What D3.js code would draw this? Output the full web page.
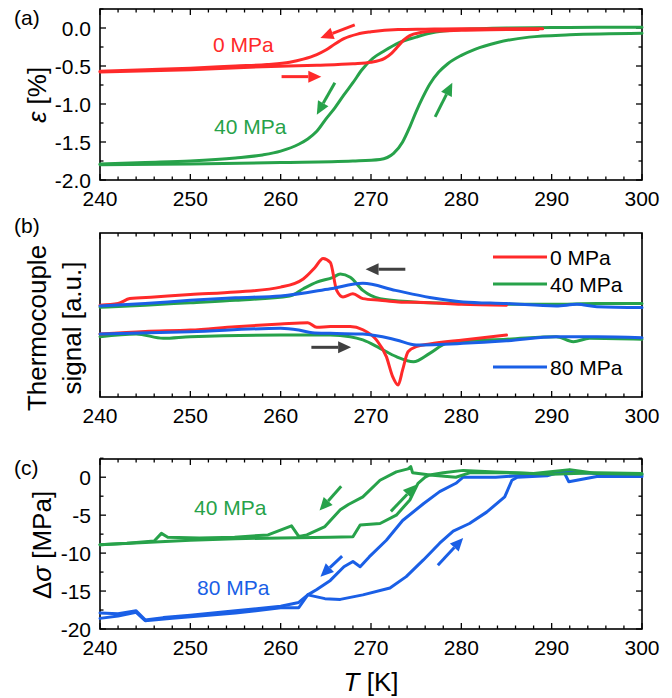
<!DOCTYPE html>
<html lang="en">
<head>
<meta charset="UTF-8">
<title>Strain, thermocouple signal and stress vs T</title>
<style>
  body { margin: 0; background: #fff; }
  text { font-family: "Liberation Sans", Arial, sans-serif; fill: #000; }
</style>
</head>
<body>
<script src="https://cdn.jsdelivr.net/npm/d3@7/dist/d3.min.js"></script>
<script>
// ---------- data ----------
var xTicks = [240, 250, 260, 270, 280, 290, 300];
var aTicks = [0.0, -0.5, -1.0, -1.5, -2.0];
var cTicks = [0, -5, -10, -15, -20];

// (a) strain, %
var aRedCoolT = [240, 245, 250, 255, 258.5, 261, 262.5, 264, 265, 266, 267, 268.5, 270, 273, 276, 280, 285, 289];
var aRedCoolE = [-0.57, -0.55, -0.53, -0.5, -0.48, -0.45, -0.41, -0.35, -0.29, -0.21, -0.14, -0.08, -0.05, -0.02, -0.015, -0.01, -0.01, -0.01];
var aRedHeatT = [240, 250, 258, 264, 268, 270, 271.5, 272.3, 273, 273.6, 274.3, 275.5, 277, 280, 285, 288.5];
var aRedHeatE = [-0.58, -0.55, -0.51, -0.49, -0.47, -0.45, -0.4, -0.33, -0.24, -0.16, -0.1, -0.06, -0.04, -0.03, -0.02, -0.02];
var aGrnCoolT = [300, 295, 290, 285, 280, 278, 276.5, 275, 273, 271.5, 270.2, 269, 268, 267, 266, 265, 264, 263, 262, 260, 258, 255, 250, 245, 240];
var aGrnCoolE = [0.01, 0.01, 0.005, 0.0, -0.02, -0.04, -0.07, -0.12, -0.2, -0.3, -0.4, -0.55, -0.72, -0.88, -1.05, -1.2, -1.36, -1.46, -1.53, -1.62, -1.67, -1.71, -1.75, -1.77, -1.79];
var aGrnHeatT = [240, 250, 260, 268, 271, 272.5, 273.5, 274.3, 275, 275.7, 276.5, 277.5, 278.5, 280, 281.5, 284, 287.5, 292, 300];
var aGrnHeatE = [-1.8, -1.79, -1.77, -1.75, -1.73, -1.65, -1.5, -1.3, -1.1, -0.92, -0.74, -0.58, -0.47, -0.36, -0.28, -0.19, -0.12, -0.09, -0.07];

// (b) thermocouple signal, arbitrary units
var bRedCoolT = [240, 242, 243.3, 246, 250, 255, 260, 262.5, 263.8, 264.7, 265.5, 266.2, 266.9, 268, 269.1, 271, 273, 276.5, 280, 285];
var bRedCoolV = [56, 57, 60, 61, 62.5, 64, 67, 72, 79, 84.5, 82, 65, 61, 63, 60, 59, 58, 57.5, 56.5, 56];
var bGrnCoolT = [240, 245, 250, 255, 261, 262.5, 264, 265.8, 266.6, 267.7, 269.1, 271, 274.7, 280, 284, 290, 295, 300];
var bGrnCoolV = [54.7, 56, 57.5, 59, 61.6, 66, 70, 73, 75, 73, 65, 60, 58, 57, 56.5, 56.5, 57, 57];
var bBluCoolT = [240, 245, 250, 255, 260, 265.5, 269.1, 272.7, 276.5, 280.2, 285, 290.5, 292.8, 295, 300];
var bBluCoolV = [55.5, 57, 59, 60.5, 61.6, 66, 69.3, 65, 60.7, 58, 57, 55.5, 56.5, 55, 54.5];
var bRedHeatT = [240, 245, 250, 255, 260, 263, 264, 265.5, 267.7, 269.1, 270.6, 271.7, 272.4, 273, 273.5, 274.1, 275, 276.5, 280.2, 285];
var bRedHeatV = [38.4, 40, 40.8, 42.9, 44.5, 45.3, 42.5, 43, 43, 41, 34.8, 24.6, 12.4, 7.3, 16.5, 27.6, 30.7, 32.3, 34.8, 37.8];
var bGrnHeatT = [240, 244, 247, 250, 260, 265.5, 267.7, 269.1, 271, 272.8, 274.7, 276.5, 278.3, 280.2, 285, 290.5, 292.4, 294.2, 300];
var bGrnHeatV = [36.8, 38.4, 35.8, 36.8, 37.8, 37.8, 36.8, 34.8, 29.7, 24.6, 21.5, 26.6, 32.7, 34.3, 35.2, 36.8, 33.7, 35.8, 35.2];
var bBluHeatT = [240, 250, 260, 262, 263.5, 265.5, 269.1, 272.8, 275, 280.2, 285, 290.5, 295, 300];
var bBluHeatV = [38.4, 39.8, 41.9, 40.8, 39.2, 38.8, 38.4, 34.8, 31.7, 32.7, 34.3, 36.8, 36.8, 36.2];

// (c) stress change, MPa
var cGrnCoolT = [300, 295, 290, 285, 281, 279.4, 276.5, 275.9, 274.6, 274.4, 274.1, 272.8, 271, 269.1, 267.5, 266.6, 264.9, 262.9, 262, 261.2, 258.6, 254.9, 251, 247.5, 246.8, 246, 243, 240];
var cGrnCoolS = [0.5, 0.6, 0.4, 0.6, 0.6, 0.0, 0.3, 0.4, 0.6, 1.4, 1.1, 0.7, -0.4, -2.6, -3.6, -4.3, -6.5, -7.6, -7.8, -6.4, -7.6, -7.9, -8.0, -7.9, -7.4, -8.4, -8.7, -8.9];
var cGrnHeatT = [240, 245, 250, 255, 260, 265.5, 268, 268.8, 271, 272.8, 274.3, 275.2, 276, 276.5, 278, 280.2, 283.8, 288, 292, 295, 300];
var cGrnHeatS = [-8.9, -8.6, -8.3, -8.1, -8.0, -7.9, -7.85, -6.3, -6.1, -5.0, -3.0, -0.8, 0.0, 0.3, 0.6, 0.9, 0.7, 0.5, 1.0, 0.5, 0.4];
var cBluCoolT = [300, 295, 291.2, 287.5, 283.8, 280.2, 279.4, 277.6, 275.8, 273.5, 271.7, 269.8, 268.8, 268, 267, 265.5, 264, 263, 262, 260, 255, 250, 247, 245, 244, 242, 240];
var cBluCoolS = [0.3, 0.5, 0.7, 0.3, 0.0, 0.0, -0.8, -1.9, -3.5, -5.7, -8.3, -10.5, -11.8, -11.1, -11.8, -13.6, -14.8, -15.5, -16.5, -17.0, -17.6, -18.2, -18.5, -18.8, -17.6, -18.0, -17.9];
var cBluHeatT = [240, 242, 244, 245, 248, 250, 255, 260, 262, 263, 264.9, 266.6, 269.1, 272.1, 273.9, 275.8, 277.6, 279.1, 280.9, 282.8, 284.8, 285.6, 286.2, 289.5, 291.3, 291.9, 295, 300];
var cBluHeatS = [-18.6, -18.3, -17.8, -18.9, -18.6, -18.4, -17.9, -17.2, -17.2, -15.5, -16.0, -16.1, -15.5, -14.6, -13.1, -10.9, -8.7, -7.1, -6.1, -4.6, -2.6, -0.4, 0.0, 0.2, 0.8, -0.6, 0.1, 0.1];

var red = "#ff2a2a", green = "#27a24a", blue = "#1a5fe6", grey = "#404040";

// ---------- layout ----------
var width = 672, height = 698;
var left = 100, right = 642;
var tickFont = 21, titleFont = 26;

var svg = d3.select("body").append("svg")
  .attr("width", width)
  .attr("height", height);

var x = d3.scaleLinear().domain([240, 300]).range([left, right]);
var yA = d3.scaleLinear().domain([-2.0, 0.25]).range([180, 9]);
var yB = d3.scaleLinear().domain([0, 100]).range([397, 233]);
var yC = d3.scaleLinear().domain([-20, 2.4]).range([629, 459]);

function zip(ts, vs) {
  return ts.map(function (t, i) { return [t, vs[i]]; });
}

// one panel: frame, ticks on all sides, tick labels
function panel(y, yMajor, yMinor, yFmt) {
  var g = svg.append("g");
  var top = y.range()[1], bot = y.range()[0];

  var xMinor = d3.range(240, 301, 2);
  g.selectAll(".xt").data(xMinor).enter().append("line")
    .attr("x1", d => x(d)).attr("x2", d => x(d))
    .attr("y1", bot).attr("y2", d => bot - (d % 10 === 0 ? 6 : 3.5))
    .attr("stroke", "#000").attr("stroke-width", 1.3);
  g.selectAll(".xtt").data(xMinor).enter().append("line")
    .attr("x1", d => x(d)).attr("x2", d => x(d))
    .attr("y1", top).attr("y2", d => top + (d % 10 === 0 ? 6 : 3.5))
    .attr("stroke", "#000").attr("stroke-width", 1.3);
  g.selectAll(".xl").data(xTicks).enter().append("text")
    .attr("x", d => x(d)).attr("y", bot + 26)
    .attr("text-anchor", "middle").attr("font-size", tickFont)
    .text(d => d);

  if (yMajor) {
    var ticks = yMajor.map(v => ({ v: v, len: 6 })).concat(yMinor.map(v => ({ v: v, len: 3.5 })));
    [left, right].forEach(function (xx, k) {
      var s = k === 0 ? 1 : -1;
      g.selectAll(null).data(ticks).enter().append("line")
        .attr("x1", xx).attr("x2", d => xx + s * d.len)
        .attr("y1", d => y(d.v)).attr("y2", d => y(d.v))
        .attr("stroke", "#000").attr("stroke-width", 1.3);
    });
    g.selectAll(null).data(yMajor).enter().append("text")
      .attr("x", left - 9).attr("y", d => y(d) + 7.5)
      .attr("text-anchor", "end").attr("font-size", tickFont)
      .text(yFmt);
  }

  g.append("rect")
    .attr("x", left).attr("y", top)
    .attr("width", right - left).attr("height", bot - top)
    .attr("fill", "none").attr("stroke", "#000").attr("stroke-width", 1.6);
  return g;
}

function curve(y, ts, vs, color, smooth) {
  var line = d3.line()
    .x(d => x(d[0])).y(d => y(d[1]))
    .curve(smooth ? d3.curveMonotoneX : d3.curveLinear);
  var pts = zip(ts, vs);
  if (ts[0] > ts[ts.length - 1]) pts = pts.slice().reverse();
  svg.append("path").datum(pts)
    .attr("d", line)
    .attr("fill", "none")
    .attr("stroke", color)
    .attr("stroke-width", 3)
    .attr("stroke-linejoin", "round")
    .attr("stroke-linecap", "round");
}

function arrow(y, t0, v0, t1, v1, color) {
  var x0 = x(t0), y0 = y(v0), x1 = x(t1), y1 = y(v1);
  var ang = Math.atan2(y1 - y0, x1 - x0);
  var L = 13, W = 6;
  var bx = x1 - L * Math.cos(ang), by = y1 - L * Math.sin(ang);
  svg.append("line")
    .attr("x1", x0).attr("y1", y0).attr("x2", bx).attr("y2", by)
    .attr("stroke", color).attr("stroke-width", 3);
  svg.append("path")
    .attr("d", "M" + x1 + "," + y1 +
      "L" + (bx + W * Math.sin(ang)) + "," + (by - W * Math.cos(ang)) +
      "L" + (bx - W * Math.sin(ang)) + "," + (by + W * Math.cos(ang)) + "Z")
    .attr("fill", color);
}

// ---------- (a) ----------
panel(yA, aTicks, [0.25, -0.25, -0.75, -1.25, -1.75], d => d.toFixed(1));
curve(yA, aGrnHeatT, aGrnHeatE, green, true);
curve(yA, aGrnCoolT, aGrnCoolE, green, true);
curve(yA, aRedHeatT, aRedHeatE, red, true);
curve(yA, aRedCoolT, aRedCoolE, red, true);
arrow(yA, 268.2, 0.04, 264.4, -0.13, red);
arrow(yA, 260.1, -0.64, 264.5, -0.64, red);
arrow(yA, 266.0, -0.72, 264.0, -1.14, green);
arrow(yA, 277.1, -1.17, 279.0, -0.72, green);
svg.append("text").attr("x", 213).attr("y", 52).attr("font-size", tickFont).style("fill", red).text("0 MPa");
svg.append("text").attr("x", 214).attr("y", 134).attr("font-size", tickFont).style("fill", green).text("40 MPa");

// ---------- (b) ----------
panel(yB, null, null, null);
curve(yB, bGrnCoolT, bGrnCoolV, green, true);
curve(yB, bGrnHeatT, bGrnHeatV, green, true);
curve(yB, bRedCoolT, bRedCoolV, red, true);
curve(yB, bRedHeatT, bRedHeatV, red, true);
curve(yB, bBluCoolT, bBluCoolV, blue, true);
curve(yB, bBluHeatT, bBluHeatV, blue, true);
arrow(yB, 273.8, 77.9, 269.4, 77.9, grey);
arrow(yB, 263.4, 30.3, 267.8, 30.3, grey);

var legend = [
  { name: "0 MPa", color: red, y: 257 },
  { name: "40 MPa", color: green, y: 284 },
  { name: "80 MPa", color: blue, y: 367 }
];
legend.forEach(function (d) {
  svg.append("line").attr("x1", 493).attr("x2", 547).attr("y1", d.y).attr("y2", d.y)
    .attr("stroke", d.color).attr("stroke-width", 3);
  svg.append("text").attr("x", 550).attr("y", d.y + 7.5).attr("font-size", tickFont).text(d.name);
});

// ---------- (c) ----------
panel(yC, cTicks, [2.5, -2.5, -7.5, -12.5, -17.5], d => d);
curve(yC, cBluHeatT, cBluHeatS, blue, false);
curve(yC, cBluCoolT, cBluCoolS, blue, false);
curve(yC, cGrnHeatT, cGrnHeatS, green, false);
curve(yC, cGrnCoolT, cGrnCoolS, green, false);
arrow(yC, 266.7, -1.2, 264.3, -4.4, green);
arrow(yC, 272.2, -4.5, 275.0, -1.0, green);
arrow(yC, 266.8, -10.4, 264.4, -13.1, blue);
arrow(yC, 277.4, -11.6, 280.2, -8.0, blue);
svg.append("text").attr("x", 194).attr("y", 515).attr("font-size", tickFont).style("fill", green).text("40 MPa");
svg.append("text").attr("x", 197).attr("y", 595).attr("font-size", tickFont).style("fill", blue).text("80 MPa");

// ---------- labels ----------
[["(a)", 18], ["(b)", 226], ["(c)", 468]].forEach(function (d) {
  svg.append("text").attr("x", 14).attr("y", d[1] + 7).attr("font-size", tickFont).text(d[0]);
});

var ya = svg.append("text").attr("transform", "translate(46,95) rotate(-90)")
  .attr("text-anchor", "middle").attr("font-size", titleFont);
ya.append("tspan").attr("font-style", "italic").text("ε");
ya.append("tspan").text(" [%]");

svg.append("text").attr("transform", "translate(46,328) rotate(-90)")
  .attr("text-anchor", "middle").attr("font-size", titleFont).text("Thermocouple");
svg.append("text").attr("transform", "translate(81,328) rotate(-90)")
  .attr("text-anchor", "middle").attr("font-size", titleFont).text("signal [a.u.]");

var yc = svg.append("text").attr("transform", "translate(51,545) rotate(-90)")
  .attr("text-anchor", "middle").attr("font-size", titleFont);
yc.append("tspan").text("Δ");
yc.append("tspan").attr("font-style", "italic").text("σ");
yc.append("tspan").text(" [MPa]");

var xl = svg.append("text").attr("x", 371).attr("y", 691)
  .attr("text-anchor", "middle").attr("font-size", titleFont);
xl.append("tspan").attr("font-style", "italic").text("T");
xl.append("tspan").text(" [K]");
</script>
</body>
</html>
